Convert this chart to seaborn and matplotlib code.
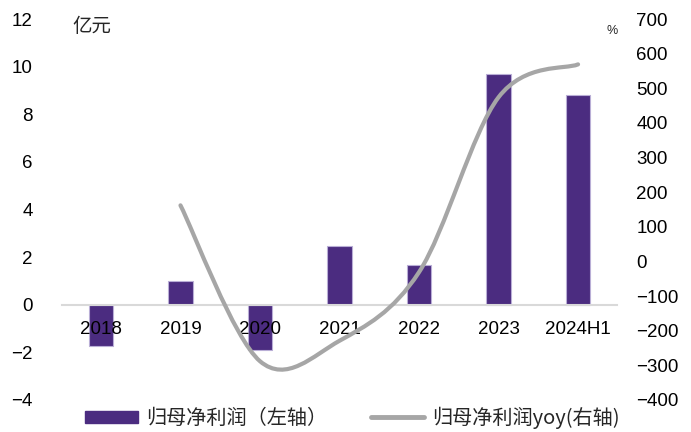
import matplotlib
matplotlib.use("Agg")

import matplotlib.pyplot as plt
import seaborn as sns
from matplotlib.lines import Line2D
from matplotlib.patches import Patch, PathPatch
from matplotlib.path import Path


# -----------------------------
# Chart data
# -----------------------------

CATEGORIES = ["2018", "2019", "2020", "2021", "2022", "2023", "2024H1"]
NET_PROFIT = [-1.73, 1.01, -1.90, 2.45, 1.69, 9.70, 8.82]  # 亿元, left axis

YOY_CATEGORIES = ["2019", "2020", "2021", "2022", "2023", "2024H1"]
NET_PROFIT_YOY = [162, -288, -229, -31, 474, 569]  # %, right axis

LEFT_TICKS = [-4, -2, 0, 2, 4, 6, 8, 10, 12]
RIGHT_TICKS = [-400, -300, -200, -100, 0, 100, 200, 300, 400, 500, 600, 700]

# Colours
BAR_PURPLE = "#4b2c80"
BAR_EDGE = "#b9aed6"
LINE_GREY = "#a6a6a6"
ZERO_GREY = "#d9d9d9"

CJK_FONT = ["Noto Sans CJK SC", "DejaVu Sans"]


def smooth_path(xs, ys):
    """Excel-style smoothed line: Catmull-Rom segments as cubic Bezier curves."""
    pts = list(zip(xs, ys))
    verts = [pts[0]]
    codes = [Path.MOVETO]
    for i in range(len(pts) - 1):
        p0 = pts[max(i - 1, 0)]
        p1 = pts[i]
        p2 = pts[i + 1]
        p3 = pts[min(i + 2, len(pts) - 1)]
        c1 = (p1[0] + (p2[0] - p0[0]) / 6, p1[1] + (p2[1] - p0[1]) / 6)
        c2 = (p2[0] - (p3[0] - p1[0]) / 6, p2[1] - (p3[1] - p1[1]) / 6)
        verts += [c1, c2, p2]
        codes += [Path.CURVE4, Path.CURVE4, Path.CURVE4]
    return Path(verts, codes)


sns.set_style("white")
plt.rcParams["font.family"] = ["Liberation Sans", "Noto Sans CJK SC", "DejaVu Sans"]
plt.rcParams["axes.unicode_minus"] = True

fig = plt.figure(figsize=(6.91, 4.32), dpi=100)
fig.subplots_adjust(left=62 / 691, right=617 / 691, top=1 - 19 / 432, bottom=1 - 400 / 432)
ax = fig.add_subplot(111)

# Bars on the left axis
sns.barplot(
    x=CATEGORIES,
    y=NET_PROFIT,
    color=BAR_PURPLE,
    saturation=1,
    width=0.31,
    edgecolor=BAR_EDGE,
    linewidth=0.8,
    ax=ax,
)

ax.set_xlim(-0.49, len(CATEGORIES) - 0.51)
ax.set_ylim(-4, 12)
ax.set_yticks(LEFT_TICKS)
ax.set_xlabel("")
ax.set_ylabel("")

# Year labels sit on top of the negative bars, like the reference.
ax.set_axisbelow(False)

for side in ["top", "right", "left"]:
    ax.spines[side].set_visible(False)
ax.spines["bottom"].set_position(("data", 0))
ax.spines["bottom"].set_color(ZERO_GREY)
ax.spines["bottom"].set_linewidth(1.5)

ax.tick_params(axis="y", length=0, pad=21, labelsize=13.5, labelcolor="black")
ax.tick_params(axis="x", length=0, pad=12, labelsize=13.5, labelcolor="black")

# Smoothed yoy line on the right axis
ax2 = ax.twinx()
ax2.set_ylim(-400, 700)
ax2.set_yticks(RIGHT_TICKS)
for side in ["top", "right", "left", "bottom"]:
    ax2.spines[side].set_visible(False)
ax2.tick_params(axis="y", length=0, pad=14, labelsize=13.5, labelcolor="black")

yoy_x = [CATEGORIES.index(c) for c in YOY_CATEGORIES]
ax2.add_patch(
    PathPatch(
        smooth_path(yoy_x, NET_PROFIT_YOY),
        facecolor="none",
        edgecolor=LINE_GREY,
        linewidth=3,
        capstyle="round",
    )
)

# Unit labels
fig.text(72 / 691, 1 - 27 / 432, "亿元", fontsize=14, family=CJK_FONT, va="center", ha="left")
fig.text(612 / 691, 1 - 31 / 432, "%", fontsize=9, va="center", ha="center")

# Legend along the bottom
handles = [
    Patch(facecolor=BAR_PURPLE, edgecolor=BAR_PURPLE),
    Line2D([0], [0], color=LINE_GREY, linewidth=3.5),
]
labels = ["归母净利润（左轴）", "归母净利润yoy(右轴)"]
fig.legend(
    handles,
    labels,
    loc="center",
    bbox_to_anchor=(0.51, 1 - 418 / 432),
    ncol=2,
    frameon=False,
    handlelength=2.6,
    handleheight=0.6,
    handletextpad=0.4,
    columnspacing=2.2,
    prop={"family": CJK_FONT, "size": 14.5},
)

fig.savefig("out.png", dpi=100)
